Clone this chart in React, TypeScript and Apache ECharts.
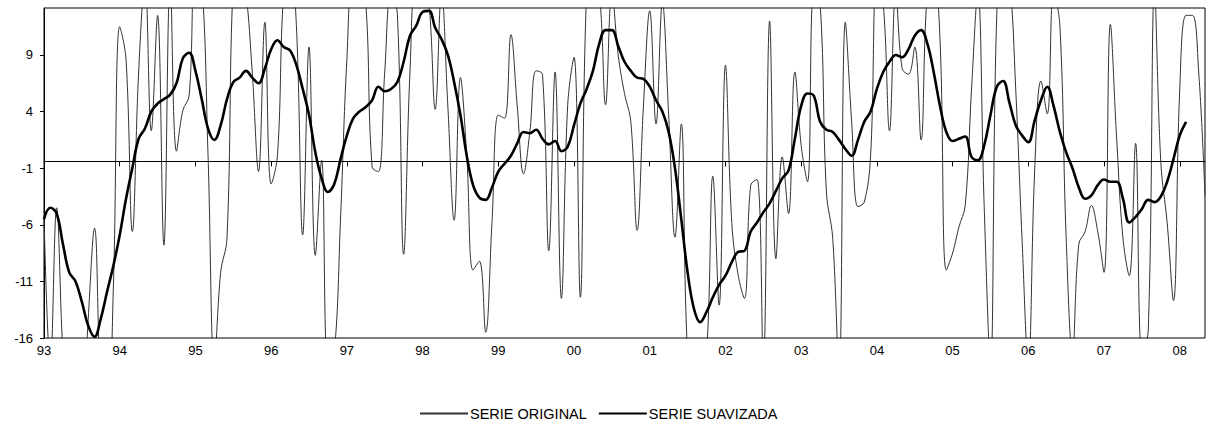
import React, { useEffect, useRef } from 'react';
import * as echarts from 'echarts';

const years = ['93', '94', '95', '96', '97', '98', '99', '00', '01', '02', '03', '04', '05', '06', '07', '08'];
const months = ['01', '02', '03', '04', '05', '06', '07', '08', '09', '10', '11', '12'];
const lastMonthsOf08 = 5;

const yTickValues = [-15.6, -10.6, -5.6, -0.6, 4.4, 9.4];

const serieOriginal = [
  -5, -18, -4.1, -17, -24, -26, -24, -14, -5.9, -20,
  -24, -11, 11.9, 9.0, -6.2, 7.9, 16, 2.7, 12.9, -7.4,
  16, 0.9, 4.5, 5.8, 17, 16, 0.5, -18, -9.8, -6.8,
  16, 18, 15, 7.9, -0.9, 12.3, -2.0, 0.5, 15, 17,
  12, -6.5, 10.1, -8.3, 0.1, -18, -17, -5, 9, 16,
  16, 14, -0.5, -0.9, 7.9, 15, 13, -8.2, 7.9, 16,
  16, 14, 4.6, 15, 4.9, -5.2, 7.4, 0.5, -9.6, -8.8,
  -15.1, -5.4, 4.1, 3.8, 11.2, 4.9, -1.1, 2.6, 8.0, 7.7,
  -7.9, 7.9, -12.1, 5, 9.2, -12.0, 15, 16, 15, 5.0,
  15, 9.4, 6.0, 3.5, -6.1, 4.9, 13.3, 3.3, 14, 4.1,
  -6.7, 3.3, -17, -18, -18, -17, -1.3, -12.7, 8.5, -5.4,
  -10, -12.1, -2.1, -1.6, -18, 12.4, -8.6, 0.4, -4.6, 7.9,
  1.4, -1.8, 15, 14, -2.7, -6.8, -19, 12.3, 3.5, -4.0,
  -3.6, 0.5, 16, 14, 2.7, 15, 8.2, 7.7, 10.1, 1.9,
  15, 16, 10.8, -9.6, -8.1, -5.8, -3.9, 6.4, 15, -3.9,
  -18, 13, 17, 16, 6.4, -6.8, -18, -0.9, 7.1, 4.2,
  15, 12, -6.8, -17, -7.3, -6.2, -3.9, -6.2, -9.8, 12.1,
  2.0, -6.8, -10.1, 1.6, -17, -15, 15, -0.1, -5.4, -12.3,
  6.4, 12.9, 12.9, 7.9, -3,
];

const serieSuavizada = [
  -5.1, -4.1, -4.6, -7.3, -9.8, -10.6, -12.4, -14.5, -15.5, -13.9,
  -11.5, -9.2, -6.5, -3.3, -0.6, 2.0, 2.9, 4.4, 5.1, 5.5,
  5.9, 6.9, 9.1, 9.6, 8.0, 5.5, 2.9, 1.9, 3.2, 5.5,
  7.0, 7.4, 8.0, 7.4, 6.9, 8.2, 9.9, 10.7, 10.1, 9.8,
  8.5, 6.4, 4.1, 0.8, -1.5, -2.7, -2.0, 0.2, 2.3, 3.8,
  4.4, 4.8, 5.4, 6.6, 6.2, 6.4, 7.0, 8.8, 11.1, 12.0,
  13.2, 13.3, 11.8, 10.8, 9.4, 7.0, 4.1, 0.5, -2.1, -3.2,
  -3.4, -2.3, -0.9, -0.2, 0.5, 1.6, 2.6, 2.5, 2.8, 2.0,
  1.5, 1.8, 0.9, 1.3, 3.2, 5.1, 6.4, 8.0, 10.4, 11.6,
  11.6, 10.2, 8.8, 8.0, 7.4, 7.3, 6.6, 5.4, 4.4, 2.6,
  -0.6, -5.1, -9.8, -13.0, -14.2, -13.3, -12.0, -10.9, -10.1, -8.9,
  -8.0, -7.9, -6.2, -5.4, -4.5, -3.7, -2.6, -1.5, -0.8, 2.0,
  4.9, 6.0, 5.8, 3.5, 2.8, 2.6, 1.9, 1.1, 0.5, 1.9,
  3.5, 4.4, 6.4, 7.9, 8.8, 9.4, 9.2, 9.9, 11.1, 11.6,
  10.4, 7.9, 4.9, 2.6, 1.8, 2.0, 2.2, 0.4, 0.1, 1.4,
  4.1, 6.6, 7.1, 5.2, 3.2, 2.3, 1.7, 3.6, 5.4, 6.6,
  4.9, 2.6, 0.8, -0.6, -2.3, -3.3, -3.0, -2.1, -1.6, -1.8,
  -1.8, -3.3, -5.4, -4.9, -4.2, -3.4, -3.6, -3.1, -1.8, 0.2,
  2.3, 3.5,
];

const categories: string[] = [];
years.forEach((y, yi) => {
  const n = yi === years.length - 1 ? lastMonthsOf08 : months.length;
  for (let m = 0; m < n; m++) categories.push(`${y}-${months[m]}`);
});

const FONT = 'Arial, "Liberation Sans", sans-serif';

export default function App() {
  const ref = useRef<HTMLDivElement>(null);
  useEffect(() => {
    if (!ref.current) return;
    const chart = echarts.init(ref.current, null, { renderer: 'svg' });
    const yearTick = (i: number) => i % 12 === 0;
    chart.setOption({
      animation: false,
      grid: {
        left: 44,
        right: 11,
        top: 8,
        bottom: 90,
        show: true,
        borderColor: '#000',
        borderWidth: 1,
        backgroundColor: 'transparent',
      },
      legend: {
        left: 419,
        top: 406,
        padding: 0,
        itemWidth: 48,
        itemHeight: 14,
        itemGap: 11,
        itemStyle: { opacity: 0 },
        textStyle: { color: '#000', fontSize: 14.5, fontFamily: FONT, padding: [0, 0, 0, -3] },
        data: ['SERIE ORIGINAL', 'SERIE SUAVIZADA'],
      },
      xAxis: {
        type: 'category',
        data: categories,
        boundaryGap: false,
        axisLine: { show: true, lineStyle: { color: '#000', width: 1 } },
        axisTick: { show: true, interval: yearTick, length: 5, lineStyle: { color: '#000' } },
        axisLabel: {
          interval: yearTick,
          formatter: (v: string) => v.slice(0, 2),
          color: '#000',
          fontSize: 13,
          fontFamily: FONT,
          margin: 6,
        },
        splitLine: { show: false },
      },
      yAxis: {
        type: 'value',
        min: -15.6,
        max: 13.55,
        axisLine: { show: true, lineStyle: { color: '#000', width: 1 } },
        axisTick: { show: true, customValues: yTickValues, length: 4, lineStyle: { color: '#000' } },
        axisLabel: {
          customValues: yTickValues,
          formatter: (v: number) => String(Math.round(v)),
          color: '#000',
          fontSize: 13,
          fontFamily: FONT,
          margin: 11,
        },
        splitLine: { show: false },
      },
      series: [
        {
          name: 'SERIE ORIGINAL',
          type: 'line',
          data: serieOriginal,
          smooth: 0.4,
          symbol: 'none',
          clip: true,
          lineStyle: { color: '#333', width: 1 },
          itemStyle: { color: '#333' },
          markLine: {
            silent: true,
            symbol: 'none',
            label: { show: false },
            lineStyle: { color: '#000', width: 1, type: 'solid' },
            data: [{ yAxis: 0 }],
          },
          z: 2,
        },
        {
          name: 'SERIE SUAVIZADA',
          type: 'line',
          data: serieSuavizada,
          smooth: 0.4,
          symbol: 'none',
          clip: true,
          lineStyle: { color: '#000', width: 2.6 },
          itemStyle: { color: '#000' },
          z: 3,
        },
      ],
    });
    return () => chart.dispose();
  }, []);
  return (
    <div
      ref={ref}
      style={{ position: 'fixed', left: 0, top: 0, width: 1216, height: 428, background: '#fff' }}
    />
  );
}
